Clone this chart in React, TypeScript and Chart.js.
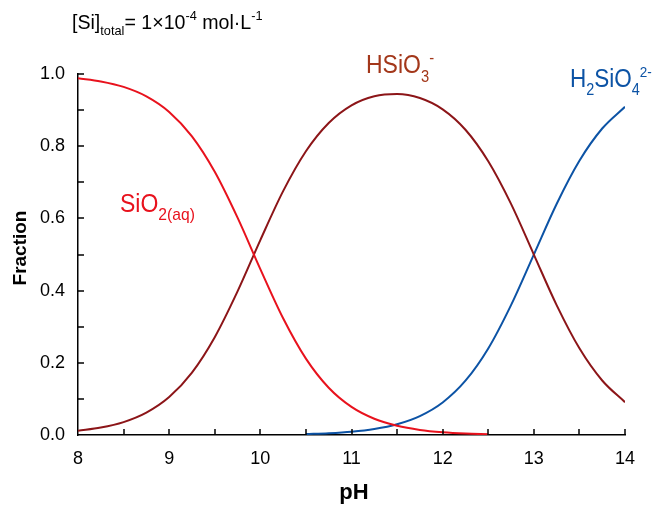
import React, { useEffect, useRef } from "react";
import { Chart, registerables } from "chart.js";
Chart.register(...registerables);

const FAMILY = '"Liberation Sans", Arial, sans-serif';

const pH = [8, 8.25, 8.5, 8.75, 9, 9.25, 9.5, 9.75, 10, 10.25, 10.5, 10.75, 11, 11.25, 11.5, 11.75, 12, 12.25, 12.5, 12.75, 13, 13.25, 13.5, 13.75, 14];
const sio2 = [0.9884, 0.9795, 0.9642, 0.938, 0.8949, 0.8272, 0.7291, 0.602, 0.4595, 0.3233, 0.2115, 0.1308, 0.0777, 0.0449, 0.0254, 0.0141, 0.0077, 0.004, 0.002, null, null, null, null, null, null];
const hsio3 = [0.0116, 0.0205, 0.0358, 0.062, 0.1051, 0.1728, 0.2709, 0.3977, 0.5399, 0.6755, 0.786, 0.8643, 0.9132, 0.9384, 0.9447, 0.9334, 0.9021, 0.8456, 0.7582, 0.6401, 0.4999, 0.3599, 0.2402, 0.151, 0.0909];
const h2sio4 = [null, null, null, null, null, null, null, null, null, null, 0.0025, 0.0049, 0.0091, 0.0167, 0.0299, 0.0525, 0.0902, 0.1504, 0.2398, 0.3599, 0.4999, 0.64, 0.7597, 0.849, 0.9091];

const xTickLabels = ["8", "9", "10", "11", "12", "13", "14"];
const yTickLabels = ["0.0", "0.2", "0.4", "0.6", "0.8", "1.0"];
const xMinorStep = 0.5;
const yMinorStep = 0.1;

const COLOR_SIO2 = "#e8121d";
const COLOR_HSIO3 = "#8c1518";
const COLOR_H2SIO4 = "#0c53a5";

type Seg = { t: string; size: number; dy?: number; bold?: boolean };

function drawText(ctx: CanvasRenderingContext2D, t: string, x: number, y: number, size: number, bold: boolean, align: CanvasTextAlign, baseline: CanvasTextBaseline, sx = 1) {
  ctx.save();
  ctx.font = `${bold ? "bold " : ""}${size}px ${FAMILY}`;
  ctx.textAlign = align;
  ctx.textBaseline = baseline;
  ctx.translate(x, y);
  ctx.scale(sx, 1);
  ctx.fillText(t, 0, 0);
  ctx.restore();
}

function drawRich(ctx: CanvasRenderingContext2D, x: number, y: number, segs: Seg[], color: string, sx = 1) {
  let cx = x;
  ctx.save();
  ctx.fillStyle = color;
  for (const s of segs) {
    drawText(ctx, s.t, cx, y + (s.dy || 0), s.size, !!s.bold, "left", "alphabetic", sx);
    ctx.font = `${s.bold ? "bold " : ""}${s.size}px ${FAMILY}`;
    cx += ctx.measureText(s.t).width * sx;
  }
  ctx.restore();
}

function toPoints(vals: (number | null)[]) {
  const pts: { x: number; y: number }[] = [];
  vals.forEach((v, i) => {
    if (v !== null) pts.push({ x: pH[i], y: v });
  });
  return pts;
}

const decorPlugin = {
  id: "decor",
  afterDraw(chart: any) {
    const ctx: CanvasRenderingContext2D = chart.ctx;
    const xs = chart.scales.x;
    const ys = chart.scales.y;
    const area = chart.chartArea;
    ctx.save();
    ctx.strokeStyle = "#000";
    ctx.lineWidth = 1.5;
    for (let v = xs.min + xMinorStep; v <= xs.max + 1e-9; v += xMinorStep) {
      const px = Math.round(xs.getPixelForValue(v));
      ctx.beginPath();
      ctx.moveTo(px, area.bottom);
      ctx.lineTo(px, area.bottom - 6);
      ctx.stroke();
    }
    for (let v = ys.min + yMinorStep; v <= ys.max + 1e-9; v += yMinorStep) {
      const py = Math.round(ys.getPixelForValue(v));
      ctx.beginPath();
      ctx.moveTo(area.left, py);
      ctx.lineTo(area.left + 6, py);
      ctx.stroke();
    }

    ctx.fillStyle = "#000";
    xTickLabels.forEach((l) => {
      drawText(ctx, l, xs.getPixelForValue(Number(l)), area.bottom + 24, 18, false, "center", "middle");
    });
    yTickLabels.forEach((l) => {
      drawText(ctx, l, area.left - 13, ys.getPixelForValue(Number(l)), 18, false, "right", "middle");
    });

    ctx.save();
    ctx.translate(21, 248);
    ctx.rotate(-Math.PI / 2);
    ctx.font = `bold 19px ${FAMILY}`;
    ctx.textAlign = "center";
    ctx.textBaseline = "middle";
    ctx.fillText("Fraction", 0, 0);
    ctx.restore();
    drawText(ctx, "pH", 354, 493, 22, true, "center", "middle");

    drawRich(ctx, 72, 29, [
      { t: "[Si]", size: 20 },
      { t: "total", size: 13, dy: 6 },
      { t: "= 1×10", size: 20 },
      { t: "-4", size: 13, dy: -9 },
      { t: " mol·L", size: 20 },
      { t: "-1", size: 13, dy: -9 },
    ], "#000", 0.98);

    drawRich(ctx, 120, 212, [
      { t: "SiO", size: 25 },
      { t: "2(aq)", size: 17, dy: 8 },
    ], COLOR_SIO2, 0.92);
    drawRich(ctx, 366, 73, [
      { t: "HSiO", size: 25 },
      { t: "3", size: 16, dy: 9 },
      { t: "-", size: 16, dy: -10 },
    ], "#a3371a", 0.92);
    drawRich(ctx, 570, 87, [
      { t: "H", size: 25 },
      { t: "2", size: 16, dy: 8 },
      { t: "SiO", size: 25 },
      { t: "4", size: 16, dy: 8 },
      { t: "2-", size: 15, dy: -10 },
    ], COLOR_H2SIO4, 0.9);
    ctx.restore();
  },
};

export default function App() {
  const ref = useRef<HTMLCanvasElement>(null);
  useEffect(() => {
    if (!ref.current) return;
    const mk = (label: string, vals: (number | null)[], color: string) => ({
      label,
      data: toPoints(vals),
      borderColor: color,
      backgroundColor: color,
      borderWidth: 2,
      pointRadius: 0,
      cubicInterpolationMode: "monotone" as const,
      fill: false,
    });
    const chart = new Chart(ref.current, {
      type: "line",
      data: {
        datasets: [
          mk("SiO2(aq)", sio2, COLOR_SIO2),
          mk("HSiO3-", hsio3, COLOR_HSIO3),
          mk("H2SiO4 2-", h2sio4, COLOR_H2SIO4),
        ],
      },
      options: {
        animation: false,
        responsive: false,
        devicePixelRatio: 1,
        layout: { padding: { top: 74, right: 29, left: 0, bottom: 0 } },
        plugins: { legend: { display: false }, tooltip: { enabled: false } },
        scales: {
          x: {
            type: "linear",
            min: 8,
            max: 14,
            afterFit: (s: any) => {
              s.height = 75;
            },
            ticks: { display: false, stepSize: 1 },
            grid: { display: false, drawTicks: false, tickLength: 0 },
            border: { display: true, color: "#000", width: 1.5 },
          },
          y: {
            type: "linear",
            min: 0,
            max: 1,
            afterFit: (s: any) => {
              s.width = 78;
            },
            ticks: { display: false, stepSize: 0.2 },
            grid: { display: false, drawTicks: false, tickLength: 0 },
            border: { display: true, color: "#000", width: 1.5 },
          },
        },
      },
      plugins: [decorPlugin],
    });
    return () => chart.destroy();
  }, []);
  return (
    <div style={{ position: "fixed", left: 0, top: 0, width: 654, height: 510, background: "#fff" }}>
      <canvas ref={ref} width={654} height={510} style={{ display: "block", width: 654, height: 510 }} />
    </div>
  );
}
